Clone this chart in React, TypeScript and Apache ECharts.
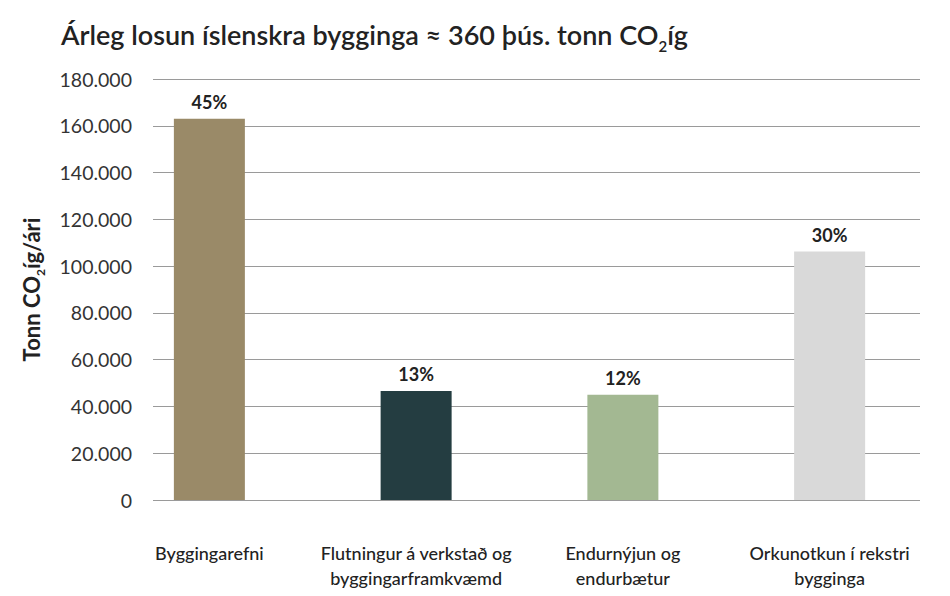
import React, { useEffect, useRef } from "react";
import * as echarts from "echarts";

// Annual emissions of Icelandic buildings, tonnes CO2-eq per year
const categories = [
  "Byggingarefni",
  "Flutningur á verkstað og\nbyggingarframkvæmd",
  "Endurnýjun og\nendurbætur",
  "Orkunotkun í rekstri\nbygginga",
];
const emissions = [163000, 46600, 45000, 106200];
const shareLabels = ["45%", "13%", "12%", "30%"];
const barColors = ["#9a8a68", "#243d41", "#a3b892", "#d9d9d9"];
const yTicks = { min: 0, max: 180000, interval: 20000 };

const FONT = "Lato, 'Noto Sans', sans-serif";
const INK = "#222222";

const thousands = (n: number) => String(n).replace(/\B(?=(\d{3})+(?!\d))/g, ".");

export default function App() {
  const ref = useRef<HTMLDivElement>(null);

  useEffect(() => {
    if (!ref.current) return;
    const chart = echarts.init(ref.current, null, { renderer: "svg" });

    chart.setOption({
      animation: false,
      backgroundColor: "#ffffff",
      title: {
        text: "Árleg losun íslenskra bygginga ≈ 360 þús. tonn CO{sub|2}íg",
        left: 48,
        top: 2,
        textStyle: {
          fontFamily: FONT,
          fontSize: 27,
          fontWeight: 600,
          color: INK,
          lineHeight: 38,
          rich: {
            sub: {
              fontFamily: FONT,
              fontSize: 15,
              fontWeight: 600,
              color: INK,
              verticalAlign: "bottom",
              lineHeight: 14,
            },
          },
        },
      },
      grid: [
        // grid carrying the value scale and its gridlines
        { left: 136, right: 22, top: 71, bottom: 96, containLabel: false },
        // grid carrying the bars and the category labels
        { left: 98, right: 9, top: 71, bottom: 96, containLabel: false },
      ],
      xAxis: [
        {
          gridIndex: 0,
          type: "category",
          data: categories,
          show: false,
        },
        {
          gridIndex: 1,
          type: "category",
          data: categories,
          axisLine: { show: false },
          axisTick: { show: false },
          axisLabel: {
            interval: 0,
            margin: 40,
            verticalAlign: "top",
            fontFamily: FONT,
            fontSize: 18,
            fontWeight: 500,
            lineHeight: 25,
            color: INK,
          },
        },
      ],
      yAxis: [
        {
          gridIndex: 0,
          type: "value",
          min: yTicks.min,
          max: yTicks.max,
          interval: yTicks.interval,
          axisLine: { show: false },
          axisTick: { show: false },
          splitLine: { lineStyle: { color: "#9a9a9a", width: 1 } },
          axisLabel: {
            margin: 21,
            fontFamily: FONT,
            fontSize: 19.5,
            color: "#333333",
            formatter: (v: number) => thousands(v),
          },
          name: "Tonn CO{sub|2}íg/ári",
          nameLocation: "middle",
          nameRotate: 90,
          nameGap: 107,
          nameTextStyle: {
            fontFamily: FONT,
            fontSize: 22,
            fontWeight: 700,
            color: INK,
            lineHeight: 30,
            rich: {
              sub: {
                fontFamily: FONT,
                fontSize: 12,
                fontWeight: 700,
                color: INK,
                verticalAlign: "bottom",
                lineHeight: 12,
              },
            },
          },
        },
        {
          gridIndex: 1,
          type: "value",
          min: yTicks.min,
          max: yTicks.max,
          interval: yTicks.interval,
          show: false,
          splitLine: { show: false },
        },
      ],
      series: [
        {
          type: "bar",
          xAxisIndex: 1,
          yAxisIndex: 1,
          barWidth: 71,
          data: emissions.map((v, i) => ({
            value: v,
            itemStyle: { color: barColors[i] },
          })),
          label: {
            show: true,
            position: "top",
            distance: 8,
            fontFamily: FONT,
            fontSize: 18,
            fontWeight: 700,
            color: INK,
            formatter: (p: any) => shareLabels[p.dataIndex],
          },
        },
      ],
    });

    return () => chart.dispose();
  }, []);

  return <div ref={ref} style={{ width: 934, height: 588 }} />;
}
